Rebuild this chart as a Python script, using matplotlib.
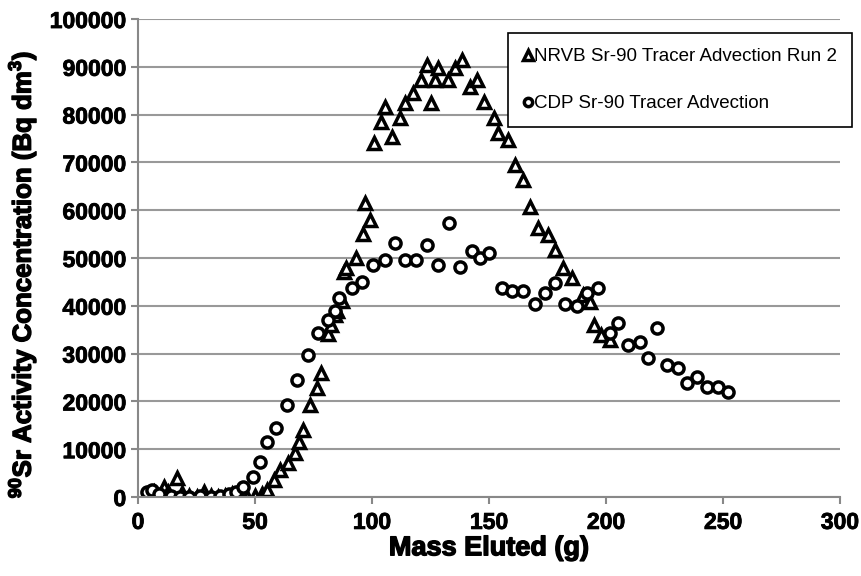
import matplotlib
matplotlib.use('Agg')
import matplotlib.pyplot as plt
import matplotlib.patheffects as pe

plt.rcParams['font.family'] = ['Liberation Sans', 'DejaVu Sans']
plt.rcParams['mathtext.fontset'] = 'custom'
plt.rcParams['mathtext.rm'] = 'Liberation Sans:bold'
plt.rcParams['mathtext.bf'] = 'Liberation Sans:bold'

# NRVB run 2 (triangles)
nrvbX = [4, 7, 11, 13, 16.5, 19, 22, 25, 28, 31, 34, 37, 40, 43.5, 46.5, 50, 53,
         55, 58, 60.7, 64, 67, 69, 70.5, 73.5, 76.5, 78, 81, 82.5, 84, 85, 87, 88,
         89, 93, 96, 97, 99, 101, 104, 105.5, 108.5, 112, 114, 117.5, 121, 123.5,
         125, 127, 128, 132.5, 135.5, 138.5, 142, 145, 148, 152, 154, 158, 161,
         164.5, 167.5, 171, 175, 178, 181.6, 185.5, 190, 193, 195, 198, 201.7]
nrvbY = [0, 1000, 2000, 1000, 4000, 800, 200, 0, 1000, 200, 0, 200, 600, 0, 0, 200, 600,
         1500, 3500, 5600, 7100, 9200, 11500, 14000, 19300, 22800, 26000, 34000, 36000, 38000, 39000, 41000, 47000,
         48000, 50000, 55000, 61500, 58000, 74000, 78500, 81600, 75300, 79300, 82400, 84500, 87200, 90400,
         82400, 87200, 89700, 87200, 89700, 91400, 85800, 87200, 82600, 79300, 76100, 74700, 69500,
         66300, 60700, 56300, 54800, 51700, 47900, 45800, 42300, 40800, 36000, 33900, 32800]

# CDP (circles)
cdpX = [4, 6, 9, 14, 18, 22, 26.5, 31, 35, 39, 42, 45, 49, 52, 55, 59, 63.7, 68,
        72.8, 77, 81, 84, 86, 91.5, 95.7, 100.4, 105.5, 110, 114, 119, 123.5, 128,
        133, 137.6, 142.7, 146, 150, 155.5, 160, 164.5, 169.6, 174, 178, 182.5,
        187.6, 192, 196.6, 201.7, 205, 209.4, 214.5, 218, 222, 226, 230.8, 234.6,
        238.9, 243, 247.9, 252]
cdpY = [1000, 1400, 600, 200, 0, 0, 200, 0, 200, 600, 1000, 2100, 4200, 7300, 11500, 14400, 19200, 24500,
        29700, 34300, 37000, 39000, 41600, 43700, 45000, 48500, 49600, 53100, 49600, 49600, 52700, 48500,
        57300, 48100, 51500, 50000, 51000, 43700, 43100, 43100, 40400, 42700, 44800, 40400,
        40000, 42700, 43700, 34300, 36400, 31800, 32400, 29100, 35400, 27600, 27000, 23800,
        25100, 23000, 23000, 22000]

fig = plt.figure(figsize=(8.61, 5.76), dpi=100)
ax = fig.add_axes([138/861, 1 - 497/576, (840 - 138)/861, (497 - 19)/576])

ax.plot(nrvbX, nrvbY, linestyle='none', marker='^', markersize=9, markeredgewidth=2.5,
        markerfacecolor='white', markeredgecolor='black', label='NRVB Sr-90 Tracer Advection Run 2')
ax.plot(cdpX, cdpY, linestyle='none', marker='o', markersize=8, markeredgewidth=2.5,
        markerfacecolor='white', markeredgecolor='black', label='CDP Sr-90 Tracer Advection')

ax.set_xlim(0, 300)
ax.set_ylim(0, 100000)
ax.set_xticks(range(0, 301, 50))
ax.set_yticks(range(0, 100001, 10000))
ax.yaxis.grid(True, color='#999999', linewidth=1.5)
ax.set_axisbelow(True)
for s in ['top', 'right']:
    ax.spines[s].set_visible(False)
for s in ['left', 'bottom']:
    ax.spines[s].set_color('#888888')
    ax.spines[s].set_linewidth(1.5)
ax.tick_params(axis='both', direction='out', length=5, width=1.5, color='#888888',
               labelsize=16.5)
ax.tick_params(axis='x', pad=5)
heavy = [pe.withStroke(linewidth=0.6, foreground='black')]
for lbl in ax.get_xticklabels() + ax.get_yticklabels():
    lbl.set_fontweight('bold')
    lbl.set_path_effects(heavy)

heavier = [pe.withStroke(linewidth=1.0, foreground='black')]
ax.set_xlabel('Mass Eluted (g)', fontsize=19.5, fontweight='bold', labelpad=1,
              path_effects=heavier)
ax.set_ylabel(r'$^{90}$Sr Activity Concentration (Bq dm$^{3}$)', fontsize=18.6,
              fontweight='bold', path_effects=heavier)
ax.yaxis.set_label_coords(-0.142, 0.466)

leg = fig.legend(loc='upper left', bbox_to_anchor=(508/861, 1 - 33/576), fontsize=13.5,
                 frameon=True, fancybox=False, edgecolor='black', framealpha=1,
                 handlelength=0.5, handletextpad=0.1, labelspacing=1.6,
                 borderpad=0.8, borderaxespad=0, markerscale=0.75)
leg.get_frame().set_linewidth(1.2)

fig.savefig('out.png', dpi=100)
